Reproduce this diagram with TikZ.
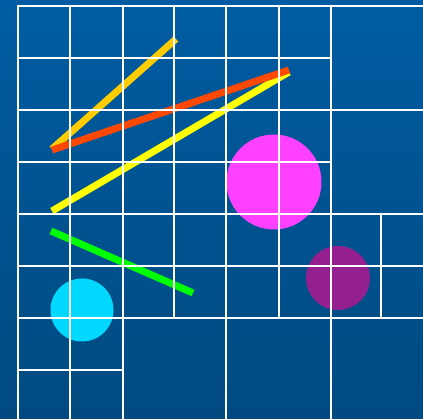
\documentclass[tikz,border=0pt]{standalone}
\definecolor{bgtop}{RGB}{0,92,162}
\definecolor{bgbot}{RGB}{0,74,128}
\definecolor{gold}{HTML}{FFCC00}
\definecolor{redorange}{HTML}{FF4800}
\definecolor{brightyellow}{HTML}{FFFF00}
\definecolor{brightgreen}{HTML}{00FF00}
\definecolor{pink}{HTML}{FF40FF}
\definecolor{plum}{HTML}{94208F}
\definecolor{skyblue}{HTML}{00D8FF}
\begin{document}
\begin{tikzpicture}[x=1pt,y=-1pt,
  gridline/.style={white,line width=2pt,line cap=rect},
  bar/.style={line width=7pt}]
\shade[top color=bgtop,bottom color=bgbot] (0,0) rectangle (423,419);
\useasboundingbox (0,0) rectangle (423,419);
% strokes
\draw[bar,gold] (52,149) -- (176,39);
\draw[bar,brightyellow] (52,211) -- (289,72);
\draw[bar,redorange] (52,150) -- (289,70);
\draw[bar,brightgreen] (51,231) -- (193,293);
% discs
\fill[pink] (274,182) circle (47.5);
\fill[plum] (338,278) circle (32);
\fill[skyblue] (82,310) circle (31.5);
% grid
\begin{scope}[gridline]
\draw (18,6) -- (423,6);
\draw (18,58) -- (331,58);
\draw (18,110) -- (423,110);
\draw (18,162) -- (331,162);
\draw (18,214) -- (423,214);
\draw (18,266) -- (423,266);
\draw (18,318) -- (423,318);
\draw (18,370) -- (123,370);
\draw (18,6) -- (18,419);
\draw (70,6) -- (70,419);
\draw (123,6) -- (123,419);
\draw (174,6) -- (174,318);
\draw (226,6) -- (226,419);
\draw (279,6) -- (279,318);
\draw (331,6) -- (331,419);
\draw (381,214) -- (381,318);
\end{scope}
\end{tikzpicture}
\end{document}
